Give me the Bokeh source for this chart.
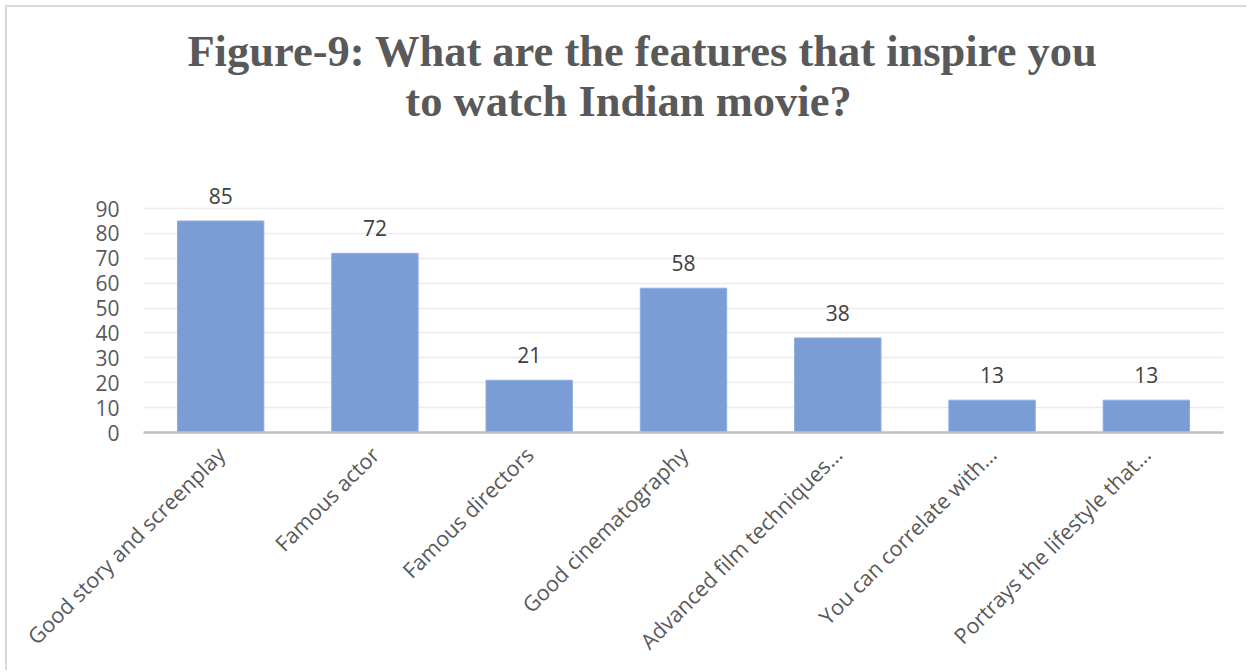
from bokeh.plotting import figure
from bokeh.models import ColumnDataSource, Range1d, FactorRange, LabelSet, Label
from bokeh.embed import file_html
from bokeh.resources import INLINE
from bokeh.core.properties import value
import math

categories = ["Good story and screenplay", "Famous actor", "Famous directors",
              "Good cinematography", "Advanced film techniques…",
              "You can correlate with…", "Portrays the lifestyle that…"]
counts = [85, 72, 21, 58, 38, 13, 13]
y_ticks = [0, 10, 20, 30, 40, 50, 60, 70, 80, 90]
title_lines = ["Figure-9: What are the features that inspire you",
               "to watch Indian movie?"]

source = ColumnDataSource(dict(cat=categories, val=counts,
                               lab=[str(v) for v in counts]))

# frame reaches up to the top of the canvas so the title labels are not clipped
p = figure(width=1241, height=665, x_range=FactorRange(*categories),
           y_range=Range1d(0, 170.8), output_backend="svg", toolbar_location=None,
           min_border_left=136, min_border_right=25, min_border_top=0,
           min_border_bottom=240)
p.outline_line_color = None
p.styles = {"border-top": "2px solid #d9d9d9", "border-left": "2px solid #d9d9d9",
            "margin-left": "5px", "margin-top": "5px"}

p.vbar(x="cat", top="val", width=0.56, source=source,
       fill_color="#7a9dd6", line_color="#8eaee0", line_width=1)

labels = LabelSet(x="cat", y="val", text="lab", source=source,
                  text_align="center", text_baseline="alphabetic", y_offset=17,
                  text_font=value("Open Sans"), text_font_size="21px",
                  text_color="#404040")
p.add_layout(labels)

p.xgrid.grid_line_color = None
p.ygrid.grid_line_color = "#ebebeb"
p.ygrid.grid_line_width = 1.5
p.yaxis.ticker = y_ticks
p.yaxis.axis_line_color = None
p.yaxis.major_tick_line_color = None
p.yaxis.minor_tick_line_color = None
p.yaxis.major_label_standoff = 18
p.yaxis.major_label_text_font = "Open Sans"
p.yaxis.major_label_text_font_size = "21px"
p.yaxis.major_label_text_color = "#595959"

p.xaxis.axis_line_color = "#bfbfbf"
p.xaxis.axis_line_width = 2.5
p.xaxis.major_tick_line_color = None
p.xaxis.minor_tick_line_color = None
p.xaxis.major_label_orientation = math.pi / 4
p.xaxis.major_label_standoff = 12
p.xaxis.major_label_text_font = "Open Sans"
p.xaxis.major_label_text_font_size = "21.5px"
p.xaxis.major_label_text_color = "#595959"

for txt, xs, ys in zip(title_lines, [499, 485], [382, 332]):
    p.add_layout(Label(x=xs, y=ys, x_units="screen", y_units="screen",
                       text=txt, text_align="center", text_baseline="alphabetic",
                       text_font="Liberation Serif", text_font_style="bold",
                       text_font_size="44.5px", text_color="#595959"))

open("out.html", "w").write(file_html(p, INLINE))
